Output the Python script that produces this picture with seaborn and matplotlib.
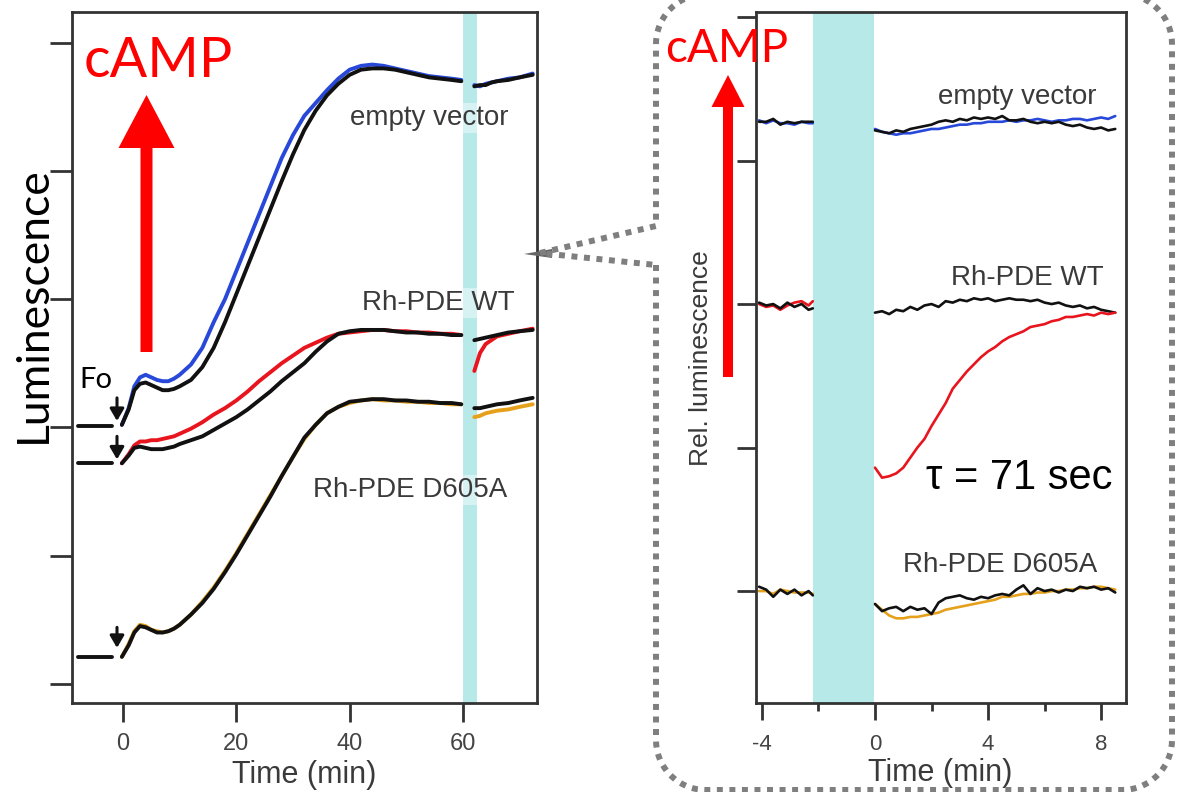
import numpy as np
import pandas as pd
import matplotlib
matplotlib.use("Agg")
import matplotlib.pyplot as plt
import seaborn as sns
from matplotlib.patches import FancyArrow, Polygon

sns.set_theme(style="ticks")
plt.rcParams['font.family'] = ['Liberation Sans', 'DejaVu Sans']
plt.rcParams['axes.unicode_minus'] = False

# ---------------- Left panel data (time in min, luminescence in tick units) ----------------
base_t = [-8.0, -1.9]
ev_base = [2.01, 2.01]
wt_base = [1.72, 1.72]
d605_base = [0.21, 0.21]

t_rise = [-0.2, 1, 2, 3, 4, 5, 6, 7, 8, 9, 10, 12, 14, 16, 18, 20, 22, 24, 26, 28,
          30, 32, 34, 36, 38, 40, 42, 44, 46, 48, 50, 52, 54, 56, 58, 59.7]
t_after = [62.0, 63, 64, 65, 66, 68, 70, 72.3]

ev_blue = [2.02, 2.15, 2.32, 2.39, 2.41, 2.39, 2.37, 2.36, 2.36, 2.38, 2.41, 2.49, 2.62, 2.82,
           3.00, 3.22, 3.44, 3.66, 3.88, 4.10, 4.28, 4.43, 4.53, 4.63, 4.72, 4.79, 4.82, 4.83,
           4.82, 4.80, 4.78, 4.76, 4.74, 4.73, 4.72, 4.71]
ev_black = [2.02, 2.14, 2.29, 2.34, 2.35, 2.33, 2.31, 2.29, 2.29, 2.30, 2.32, 2.37, 2.47, 2.62,
            2.82, 3.04, 3.26, 3.48, 3.70, 3.92, 4.13, 4.32, 4.47, 4.59, 4.68, 4.75, 4.79, 4.80,
            4.80, 4.79, 4.77, 4.75, 4.73, 4.72, 4.71, 4.70]
ev_blue_after = [4.67, 4.66, 4.68, 4.69, 4.70, 4.72, 4.73, 4.76]
ev_black_after = [4.66, 4.67, 4.67, 4.69, 4.70, 4.71, 4.73, 4.75]

wt_red = [1.72, 1.79, 1.86, 1.89, 1.89, 1.90, 1.90, 1.91, 1.92, 1.93, 1.95, 1.99, 2.04, 2.10,
          2.15, 2.21, 2.28, 2.36, 2.43, 2.50, 2.56, 2.62, 2.66, 2.70, 2.73, 2.74, 2.75, 2.76,
          2.76, 2.75, 2.75, 2.74, 2.74, 2.73, 2.73, 2.72]
wt_black = [1.72, 1.78, 1.84, 1.85, 1.84, 1.83, 1.83, 1.83, 1.84, 1.85, 1.87, 1.90, 1.93, 1.98,
            2.03, 2.08, 2.14, 2.21, 2.28, 2.36, 2.43, 2.50, 2.59, 2.67, 2.73, 2.75, 2.76, 2.76,
            2.76, 2.75, 2.74, 2.74, 2.73, 2.73, 2.72, 2.72]
wt_red_after = [2.44, 2.58, 2.65, 2.68, 2.71, 2.73, 2.75, 2.77]
wt_black_after = [2.68, 2.69, 2.70, 2.71, 2.72, 2.74, 2.75, 2.76]

d605_orange = [0.21, 0.31, 0.41, 0.46, 0.45, 0.42, 0.41, 0.40, 0.41, 0.43, 0.46, 0.54, 0.64, 0.75,
               0.88, 1.02, 1.17, 1.32, 1.47, 1.62, 1.77, 1.91, 2.02, 2.11, 2.16, 2.19, 2.21, 2.22,
               2.21, 2.21, 2.20, 2.20, 2.19, 2.19, 2.18, 2.18]
d605_black = [0.21, 0.30, 0.40, 0.45, 0.44, 0.42, 0.40, 0.40, 0.41, 0.43, 0.46, 0.54, 0.63, 0.74,
              0.87, 1.01, 1.16, 1.31, 1.46, 1.62, 1.77, 1.92, 2.02, 2.11, 2.16, 2.20, 2.21, 2.22,
              2.22, 2.21, 2.21, 2.20, 2.20, 2.19, 2.19, 2.18]
d605_orange_after = [2.08, 2.09, 2.11, 2.12, 2.13, 2.14, 2.16, 2.18]
d605_black_after = [2.15, 2.15, 2.16, 2.17, 2.18, 2.19, 2.21, 2.23]

left_xticks = [0, 20, 40, 60]
left_yticks = [0, 1, 2, 3, 4, 5]
left_band = [60, 62.5]

# ---------------- Right panel data (time in min, rel. luminescence in tick units) ----------------
r_pre_t = [-4.1, -3.85, -3.6, -3.35, -3.1, -2.85, -2.6, -2.35, -2.2]
r_post_t = [0.0, 0.25, 0.5, 0.75, 1.0, 1.25, 1.5, 1.75, 2.0, 2.25, 2.5, 2.75, 3.0, 3.25, 3.5,
            3.75, 4.0, 4.25, 4.5, 4.75, 5.0, 5.25, 5.5, 5.75, 6.0, 6.25, 6.5, 6.75, 7.0, 7.25,
            7.5, 7.75, 8.0, 8.25, 8.5]

r_ev_black_pre = [3.27, 3.27, 3.29, 3.25, 3.27, 3.26, 3.27, 3.27, 3.27]
r_ev_blue_pre = [3.28, 3.26, 3.28, 3.26, 3.26, 3.25, 3.27, 3.26, 3.26]
r_wt_black_pre = [2.01, 1.99, 2.00, 1.97, 2.01, 1.98, 2.00, 1.96, 1.97]
r_wt_red_pre = [2.00, 1.98, 1.99, 1.96, 1.99, 2.01, 2.02, 1.99, 2.02]
r_d_black_pre = [0.03, 0.01, -0.04, 0.01, -0.02, 0.01, -0.03, 0.00, -0.03]
r_d_orange_pre = [0.00, 0.00, -0.02, 0.01, 0.00, -0.01, -0.01, -0.01, -0.02]

r_ev_black_post = [3.21, 3.20, 3.19, 3.21, 3.20, 3.22, 3.23, 3.24, 3.25, 3.27, 3.28, 3.27, 3.29,
                   3.28, 3.30, 3.29, 3.30, 3.29, 3.31, 3.28, 3.28, 3.29, 3.27, 3.26, 3.27, 3.26,
                   3.27, 3.25, 3.24, 3.25, 3.23, 3.22, 3.23, 3.21, 3.22]
r_ev_blue_post = [3.22, 3.20, 3.19, 3.18, 3.19, 3.19, 3.20, 3.21, 3.22, 3.22, 3.23, 3.24, 3.25,
                  3.25, 3.26, 3.26, 3.27, 3.27, 3.27, 3.28, 3.27, 3.28, 3.28, 3.29, 3.28, 3.27,
                  3.28, 3.28, 3.29, 3.29, 3.28, 3.29, 3.30, 3.29, 3.31]
r_wt_black_post = [1.94, 1.95, 1.93, 1.96, 1.95, 1.98, 1.96, 1.99, 2.00, 1.98, 2.02, 2.01, 2.03,
                   2.02, 2.04, 2.03, 2.04, 2.02, 2.03, 2.04, 2.03, 2.03, 2.02, 2.03, 2.01, 2.00,
                   2.01, 1.99, 1.98, 1.99, 1.97, 1.98, 1.96, 1.95, 1.94]
r_wt_red_post = [0.86, 0.79, 0.80, 0.82, 0.86, 0.93, 1.00, 1.06, 1.15, 1.23, 1.31, 1.41, 1.47,
                 1.53, 1.58, 1.63, 1.67, 1.70, 1.74, 1.77, 1.79, 1.81, 1.84, 1.85, 1.86, 1.88,
                 1.89, 1.91, 1.91, 1.92, 1.93, 1.92, 1.94, 1.93, 1.94]
r_d_black_post = [-0.09, -0.14, -0.12, -0.11, -0.14, -0.11, -0.13, -0.12, -0.16, -0.08, -0.05,
                  -0.04, -0.03, -0.05, -0.06, -0.04, -0.05, -0.03, -0.02, -0.03, 0.01, 0.04,
                  -0.02, 0.02, 0.00, 0.01, -0.01, 0.01, 0.00, 0.03, 0.02, 0.03, 0.01, 0.02, -0.01]
r_d_orange_post = [-0.09, -0.13, -0.17, -0.19, -0.19, -0.18, -0.18, -0.17, -0.16, -0.15, -0.13,
                   -0.12, -0.11, -0.10, -0.09, -0.08, -0.07, -0.06, -0.04, -0.04, -0.03, -0.02,
                   -0.02, -0.01, -0.01, 0.00, 0.00, 0.01, 0.01, 0.02, 0.02, 0.03, 0.03, 0.02, 0.01]

right_xticks = [-4, 0, 4, 8]
right_xticks_minor = [-2, 2, 6]
right_yticks = [0, 1, 2, 3, 4]
right_band = [-2.2, -0.05]

# ---------------- colours ----------------
BLUE = '#2748d8'
RED = '#e8141e'
ORANGE = '#e6a11c'
BLACK = '#111111'
CYAN = '#b8e9e9'
AXC = '#333333'
TXT = '#3a3a3a'

W, H = 1195, 792
fig = plt.figure(figsize=(W / 100, H / 100), dpi=100)
fig.patch.set_facecolor('white')


def frac_axes(x0, y0, x1, y1):
    return fig.add_axes([x0 / W, 1 - y1 / H, (x1 - x0) / W, (y1 - y0) / H])


axL = frac_axes(72, 12, 537, 703)
axR = frac_axes(756, 12, 1126, 703)


def seg(ax, t, v, color, lw):
    df = pd.DataFrame({'t': t, 'v': v})
    sns.lineplot(data=df, x='t', y='v', ax=ax, color=color, lw=lw,
                 estimator=None, sort=False, legend=False)


# ---- Left panel ----
axL.axvspan(left_band[0], left_band[1], color=CYAN, lw=0, zorder=0)
LW = 2.8
for base in (ev_base, wt_base, d605_base):
    seg(axL, base_t, base, BLACK, LW)
seg(axL, t_rise, ev_blue, BLUE, LW)
seg(axL, t_after, ev_blue_after, BLUE, LW)
seg(axL, t_rise, ev_black, BLACK, LW)
seg(axL, t_after, ev_black_after, BLACK, LW)
seg(axL, t_rise, wt_red, RED, LW)
seg(axL, t_after, wt_red_after, RED, LW)
seg(axL, t_rise, wt_black, BLACK, LW)
seg(axL, t_after, wt_black_after, BLACK, LW)
seg(axL, t_rise, d605_orange, ORANGE, LW)
seg(axL, t_after, d605_orange_after, ORANGE, LW)
seg(axL, t_rise, d605_black, BLACK, LW)
seg(axL, t_after, d605_black_after, BLACK, LW)

for y0, y1 in [(2.23, 2.05), (1.93, 1.75), (0.44, 0.28)]:
    axL.annotate('', xy=(-1.06, y1), xytext=(-1.06, y0),
                 arrowprops=dict(arrowstyle='-|>,head_width=0.35,head_length=0.6',
                                 color=BLACK, lw=2.2, shrinkA=0, shrinkB=0))

axL.set_xlim(-9.0, 73.06)
axL.set_ylim(-0.15, 5.24)
axL.set_xticks(left_xticks)
axL.set_yticks(left_yticks)
axL.set_yticklabels([])
axL.tick_params(axis='x', length=13.7, width=2, color=AXC, labelsize=17,
                labelcolor='#444444', pad=8)
axL.tick_params(axis='y', length=16, width=2, color=AXC)
axL.set_xlabel('Time (min)', fontsize=22, color=TXT)
axL.xaxis.label.set_va('center')
axL.xaxis.set_label_coords(0.5, (703 - 775) / 691)
axL.set_ylabel('Luminescence', fontsize=32, color='black', family=['Lato', 'DejaVu Sans'])
axL.yaxis.label.set_va('center')
axL.yaxis.set_label_coords((33 - 72) / 465, (703 - 305) / 691)

lab_kw = dict(fontsize=20, color=TXT, ha='center', va='center',
              bbox=dict(facecolor='white', edgecolor='none', alpha=0.45, pad=1.5))
axL.text(54.0, 4.415, 'empty vector', **lab_kw)
axL.text(55.6, 2.97, 'Rh-PDE WT', **lab_kw)
axL.text(50.6, 1.51, 'Rh-PDE D605A', **lab_kw)

# ---- Right panel ----
axR.axvspan(right_band[0], right_band[1], color=CYAN, lw=0, zorder=0)
RLW = 1.9
seg(axR, r_pre_t, r_ev_blue_pre, BLUE, RLW)
seg(axR, r_post_t, r_ev_blue_post, BLUE, RLW)
seg(axR, r_pre_t, r_ev_black_pre, BLACK, RLW)
seg(axR, r_post_t, r_ev_black_post, BLACK, RLW)
seg(axR, r_pre_t, r_wt_red_pre, RED, RLW)
seg(axR, r_pre_t, r_wt_black_pre, BLACK, RLW)
seg(axR, r_post_t, r_wt_black_post, BLACK, RLW)
seg(axR, r_post_t, r_wt_red_post, RED, RLW)
seg(axR, r_pre_t, r_d_orange_pre, ORANGE, RLW)
seg(axR, r_post_t, r_d_orange_post, ORANGE, RLW)
seg(axR, r_pre_t, r_d_black_pre, BLACK, RLW)
seg(axR, r_post_t, r_d_black_post, BLACK, RLW)

axR.set_xlim(-4.21, 8.88)
axR.set_ylim(-0.78, 4.035)
axR.set_xticks(right_xticks)
axR.set_xticks(right_xticks_minor, minor=True)
axR.set_yticks(right_yticks)
axR.set_yticklabels([])
axR.tick_params(axis='x', which='major', length=12, width=2, color=AXC, labelsize=16,
                labelcolor='#444444', pad=10)
axR.tick_params(axis='x', which='minor', length=6, width=2, color=AXC)
axR.tick_params(axis='y', length=13.7, width=2, color=AXC)
axR.set_xlabel('Time (min)', fontsize=22, color=TXT)
axR.xaxis.label.set_va('center')
axR.xaxis.set_label_coords((940 - 756) / 370, (703 - 773) / 691)
axR.set_ylabel('Rel. luminescence', fontsize=19, color=TXT)
axR.yaxis.label.set_va('center')
axR.yaxis.set_label_coords((701 - 756) / 370, (703 - 358) / 691)

axR.text(5.03, 3.44, 'empty vector', **lab_kw)
axR.text(5.38, 2.18, 'Rh-PDE WT', **lab_kw)
axR.text(4.42, 0.18, 'Rh-PDE D605A', **lab_kw)
axR.text(5.1, 0.79, '\u03c4 = 71 sec', fontsize=30, color='black', ha='center', va='center')

for ax in (axL, axR):
    for sp in ax.spines.values():
        sp.set_visible(True)
        sp.set_color(AXC)
        sp.set_linewidth(2)
    ax.grid(False)
    ax.set_facecolor('white')

# ---- overlay annotations in pixel coordinates ----
ov = fig.add_axes([0, 0, 1, 1], zorder=10)
ov.set_xlim(0, W)
ov.set_ylim(H, 0)
ov.axis('off')

ov.add_patch(FancyArrow(146.5, 352, 0, -257, width=12, head_width=56, head_length=53,
                        length_includes_head=True, color='#ff0000', lw=0))
ov.add_patch(FancyArrow(728, 377, 0, -302, width=10, head_width=33, head_length=32,
                        length_includes_head=True, color='#ff0000', lw=0))
ov.text(84, 77, 'cAMP', fontsize=40, color='#ff0000', family=['Lato', 'DejaVu Sans'],
        ha='left', va='baseline')
ov.text(665, 62, 'cAMP', fontsize=33, color='#ff0000', family=['Lato', 'DejaVu Sans'],
        ha='left', va='baseline')
ov.text(79, 388, 'Fo', fontsize=21, color='black', family=['Lato', 'DejaVu Sans'],
        ha='left', va='baseline')

# dotted rounded callout box
l, r, t, b, rad = 656, 1172, -6, 790, 50
gap_top, gap_bot = 226, 265
tip = (540, 253)


def arc(cx, cy, a0, a1, n=20):
    a = np.radians(np.linspace(a0, a1, n))
    return list(zip(cx + rad * np.cos(a), cy + rad * np.sin(a)))


pts = [(l, gap_bot)]
pts += arc(l + rad, b - rad, 180, 90)
pts += arc(r - rad, b - rad, 90, 0)
pts += arc(r - rad, t + rad, 0, -90)
pts += arc(l + rad, t + rad, -90, -180)
pts += [(l, gap_top), tip, (l, gap_bot)]
xs, ys = zip(*pts)
ov.plot(xs, ys, color='#7f7f7f', lw=4.3, linestyle=(0, (1, 1.1)), dash_capstyle='butt',
        solid_joinstyle='miter')
ov.add_patch(Polygon([(524, 254), (552, 249), (552, 258)], closed=True,
                     color='#666666', lw=0))

fig.savefig('out.png', dpi=100, facecolor='white')
